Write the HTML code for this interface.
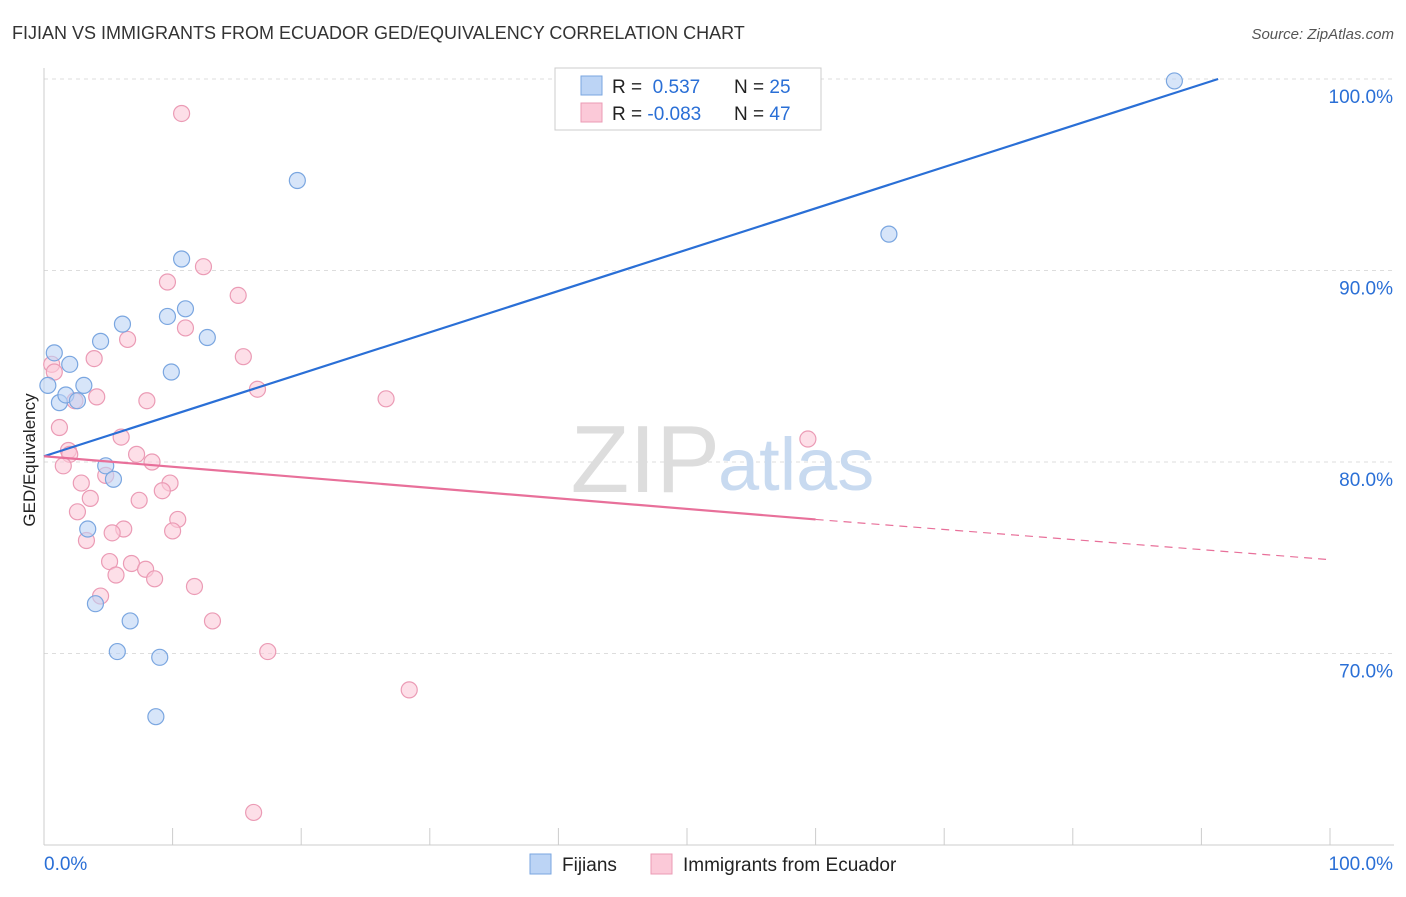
<!DOCTYPE html>
<html><head><meta charset="utf-8"><style>
body{margin:0;background:#fff;font-family:"Liberation Sans",sans-serif;}
svg text{font-family:"Liberation Sans",sans-serif;}
</style></head><body>
<svg id="chart" width="1406" height="892">
<text x="12" y="39" font-size="18" fill="#333">FIJIAN VS IMMIGRANTS FROM ECUADOR GED/EQUIVALENCY CORRELATION CHART</text>
<text x="1394" y="39" font-size="15" fill="#555" font-style="italic" text-anchor="end">Source: ZipAtlas.com</text>
<text x="35" y="460" font-size="17" fill="#222" text-anchor="middle" transform="rotate(-90 35 460)">GED/Equivalency</text>
<g id="grid"></g>
<text x="720" y="492" font-size="96" fill="#ddd" text-anchor="end" font-family="Liberation Serif">ZIP</text>
<text x="718" y="490" font-size="74" fill="#c8daf0">atlas</text>
<g id="marks"></g>
<g>
<rect x="555" y="68" width="266" height="62" fill="#fff" stroke="#ccc"/>
<rect x="581" y="76" width="21" height="19" fill="#bcd4f5" stroke="#7aa6e0"/>
<rect x="581" y="103" width="21" height="19" fill="#fbc9d8" stroke="#eb9bb5"/>
<text x="612" y="93" font-size="19" fill="#222">R = <tspan fill="#2a6fd6">&#160;0.537</tspan><tspan x="734">N = </tspan><tspan fill="#2a6fd6">25</tspan></text>
<text x="612" y="120" font-size="19" fill="#222">R = <tspan fill="#2a6fd6">-0.083</tspan><tspan x="734">N = </tspan><tspan fill="#2a6fd6">47</tspan></text>
</g>
<g>
<rect x="530" y="854" width="21" height="20" fill="#bcd4f5" stroke="#7aa6e0"/>
<text x="562" y="871" font-size="19" fill="#222">Fijians</text>
<rect x="651" y="854" width="21" height="20" fill="#fbc9d8" stroke="#eb9bb5"/>
<text x="683" y="871" font-size="19" fill="#222">Immigrants from Ecuador</text>
</g>
</svg>
<script>
const yTicks=[100,90,80,70];
const xTickLabels=["0.0%","100.0%"];
const fijianX=[0.8,0.3,1.2,2.0,1.7,2.6,3.1,4.4,6.1,9.6,10.7,11.0,9.9,12.7,19.7,4.8,5.4,3.4,4.0,6.7,5.7,9.0,8.7,65.7,87.9];
const fijianY=[85.7,84.0,83.1,85.1,83.5,83.2,84.0,86.3,87.2,87.6,90.6,88.0,84.7,86.5,94.7,79.8,79.1,76.5,72.6,71.7,70.1,69.8,66.7,91.9,99.9];
const ecuadorX=[10.7,9.6,12.4,15.1,11.0,6.5,15.5,3.9,0.6,0.8,16.6,4.1,8.0,26.6,2.4,1.2,6.0,1.9,2.0,7.2,8.4,1.5,4.8,9.8,2.9,9.2,3.6,7.4,2.6,10.4,6.2,5.3,10.0,3.3,5.1,6.8,7.9,5.6,8.6,11.7,4.4,13.1,17.4,28.4,16.3,59.4];
const ecuadorY=[98.2,89.4,90.2,88.7,87.0,86.4,85.5,85.4,85.1,84.7,83.8,83.4,83.2,83.3,83.2,81.8,81.3,80.6,80.4,80.4,80.0,79.8,79.3,78.9,78.9,78.5,78.1,78.0,77.4,77.0,76.5,76.3,76.4,75.9,74.8,74.7,74.4,74.1,73.9,73.5,73.0,71.7,70.1,68.1,61.7,81.2];
const fijianFit=[80.3,100];    // y at x=0 and x=91.3
const ecuadorFit=[80.3,77.0,74.9]; // x=0, x=60, x=100
const svg=document.getElementById('chart'),grid=document.getElementById('grid'),marks=document.getElementById('marks');
const NS='http://www.w3.org/2000/svg';
const X=v=>44+v*12.86, Y=v=>79+(100-v)*19.15;
function mk(t,a,p){const e=document.createElementNS(NS,t);for(const k in a)e.setAttribute(k,a[k]);(p||marks).appendChild(e);return e;}
yTicks.forEach(t=>{
 const l=mk('line',{x1:44,x2:1394,y1:Y(t),y2:Y(t),stroke:'#ddd','stroke-dasharray':'4,4'},grid);
 
 
 const tx=mk('text',{x:1393,y:Y(t)+24,'font-size':19,fill:'#2a6fd6','text-anchor':'end'},grid);tx.textContent=t.toFixed(1)+'%';
 
 
});
const ax=mk('line',{x1:44,x2:44,y1:68,y2:845,stroke:'#ccc'},grid);


const bx=mk('line',{x1:44,x2:1394,y1:845,y2:845,stroke:'#ccc'},grid);


for(let i=0;i<=10;i++){const t=mk('line',{x1:X(i*10),x2:X(i*10),y1:828,y2:845,stroke:'#ccc'},grid);
 
 }
xTickLabels.forEach((s,i)=>{const t=mk('text',{x:i?1393:44,y:870,'font-size':19,fill:'#2a6fd6','text-anchor':i?'end':'start'},grid);t.textContent=s;
 
 });
ecuadorX.forEach((x,i)=>{const c=mk('circle',{cx:X(x),cy:Y(ecuadorY[i]),r:8,fill:'#fbc9d8','fill-opacity':0.6,stroke:'#eb9bb5','stroke-width':1.2});
 
 });
fijianX.forEach((x,i)=>{const c=mk('circle',{cx:X(x),cy:Y(fijianY[i]),r:8,fill:'#bcd4f5','fill-opacity':0.6,stroke:'#7aa6e0','stroke-width':1.2});
 
 });
const bl=mk('line',{x1:X(0),y1:Y(fijianFit[0]),x2:X(91.3),y2:Y(fijianFit[1]),stroke:'#2a6fd6','stroke-width':2.2});


const pl=mk('line',{x1:X(0),y1:Y(ecuadorFit[0]),x2:X(60),y2:Y(ecuadorFit[1]),stroke:'#e8709a','stroke-width':2.2});


const pd=mk('line',{x1:X(60),y1:Y(ecuadorFit[1]),x2:X(100),y2:Y(ecuadorFit[2]),stroke:'#e8709a','stroke-width':1.2,'stroke-dasharray':'8,6'});


</script>
</body></html>
